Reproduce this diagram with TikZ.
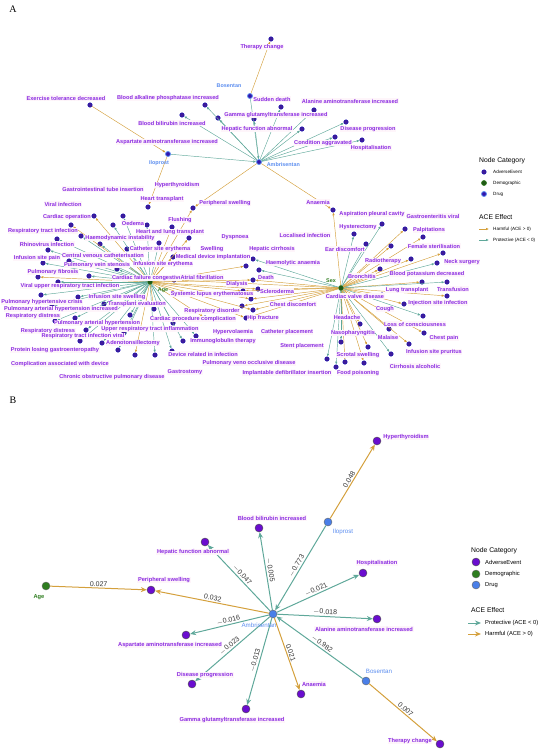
\documentclass[tikz,border=0pt]{standalone}
\usepackage{fontspec}
\setmainfont{Liberation Sans}
\newfontfamily\panelfont{Liberation Serif}
\usetikzlibrary{arrows.meta}

\definecolor{aedot}{HTML}{3F1C99}
\definecolor{aedotB}{HTML}{6A0DCF}
\definecolor{aetext}{HTML}{8A2BE2}
\definecolor{drugdot}{HTML}{4A7FE8}
\definecolor{drugtext}{HTML}{5B8DEF}
\definecolor{demodot}{HTML}{2E7D1F}
\definecolor{harmc}{HTML}{D4A03C}
\definecolor{protc}{HTML}{5FA89A}

\tikzset{
  aeA/.style={circle, fill=aedot, draw=blue!70!black, line width=0.3pt, inner sep=0pt, minimum size=4.6pt},
  drugA/.style={circle, fill=aedot!80!blue, draw=drugtext, line width=0.8pt, inner sep=0pt, minimum size=5pt},
  demoA/.style={circle, fill=demodot!70!black, draw=demodot, line width=0.6pt, inner sep=0pt, minimum size=5pt},
  aelab/.style={font=\fontsize{5.6}{6}\selectfont\bfseries, text=aetext, fill=magenta!4, inner sep=0.5pt},
  druglab/.style={font=\fontsize{5.4}{6}\selectfont\bfseries, text=drugtext, inner sep=0.6pt},
  demolab/.style={font=\fontsize{5.4}{6}\selectfont\bfseries, text=demodot, inner sep=0.6pt},
  harmA/.style={draw=harmc, line width=0.45pt, -{Latex[length=2.8pt,width=2.4pt]}},
  protA/.style={draw=protc, line width=0.45pt, -{Latex[length=2.8pt,width=2.4pt]}},
  aeB/.style={circle, fill=aedotB, draw=black!70, line width=0.4pt, inner sep=0pt, minimum size=8pt},
  drugB/.style={circle, fill=drugdot, draw=black!60, line width=0.4pt, inner sep=0pt, minimum size=8pt},
  demoB/.style={circle, fill=demodot, draw=black!60, line width=0.4pt, inner sep=0pt, minimum size=8pt},
  aelabB/.style={font=\fontsize{5.7}{6}\selectfont\bfseries, text=aetext, fill=magenta!4, inner sep=0.6pt},
  druglabB/.style={font=\fontsize{6.2}{7}\selectfont, text=drugtext, inner sep=0.6pt},
  harmB/.style={draw=harmc, line width=1pt, -{Stealth[length=6pt,width=5pt]}},
  protB/.style={draw=protc, line width=1pt, -{Stealth[length=6pt,width=5pt]}},
  wt/.style={font=\fontsize{7}{8}\selectfont, text=black!80, sloped, above, inner sep=1pt},
  legtitle/.style={font=\fontsize{6.8}{7}\selectfont, anchor=west, inner sep=0pt},
  legtext/.style={font=\fontsize{4.6}{5}\selectfont, anchor=west, inner sep=0pt},
  legtextB/.style={font=\fontsize{5.8}{6}\selectfont, anchor=west, inner sep=0pt}
}

\begin{document}
\begin{tikzpicture}[x=1pt,y=-1pt]
\useasboundingbox (0,0) rectangle (550,753);

% ---------------- panel A ----------------
\node[font=\panelfont\fontsize{10}{10}\selectfont] (pA) at (13,9) {A};

% hubs
\node[drugA] (amb) at (259,162) {};
\node[drugA] (ilo) at (168,154) {};
\node[drugA] (bos) at (250,96) {};
\node[demoA] (age) at (150,282) {};
\node[demoA] (sex) at (341,288) {};

% adverse events
\node[aeA] (ther) at (271,39) {};
\node[aeA] (exer) at (90,105) {};
\node[aeA] (balp) at (205,105) {};
\node[aeA] (bbil) at (182,115) {};
\node[aeA] (ggt) at (302,129) {};
\node[aeA] (ast) at (218,118) {};
\node[aeA] (sudd) at (281,107) {};
\node[aeA] (hepf) at (254,119) {};
\node[aeA] (alt) at (314,110) {};
\node[aeA] (disp) at (346,122) {};
\node[aeA] (cond) at (335,137) {};
\node[aeA] (hosp) at (362,140) {};
\node[aeA] (anae) at (333,210) {};
\node[aeA] (psw) at (193,208) {};
\node[aeA] (gtub) at (123,216) {};
\node[aeA] (hyth) at (148,207) {};
\node[aeA] (vinf) at (94,216) {};
\node[aeA] (htx) at (147,225) {};
\node[aeA] (cop) at (71,225) {};
\node[aeA] (oed) at (113,225) {};
\node[aeA] (rti) at (57,239) {};
\node[aeA] (flu) at (172,227) {};
\node[aeA] (hlt) at (159,243) {};
\node[aeA] (hdi) at (81,236) {};
\node[aeA] (rhi) at (48,250) {};
\node[aeA] (cse) at (127,249) {};
\node[aeA] (swe) at (189,238) {};
\node[aeA] (cvc) at (100,244) {};
\node[aeA] (isp) at (43,263) {};
\node[aeA] (pvs) at (69,261) {};
\node[aeA] (ise) at (117,269) {};
\node[aeA] (mdi) at (173,257) {};
\node[aeA] (pfi) at (38,277) {};
\node[aeA] (cfc) at (89,276) {};
\node[aeA] (afi) at (174,280) {};
\node[aeA] (vur) at (58,282) {};
\node[aeA] (iss) at (78,297) {};
\node[aeA] (phc) at (41,295) {};
\node[aeA] (tev) at (104,304) {};
\node[aeA] (pai) at (52,306) {};
\node[aeA] (rda) at (55,321) {};
\node[aeA] (pah) at (75,318) {};
\node[aeA] (rdb) at (86,330) {};
\node[aeA] (rtv) at (80,341) {};
\node[aeA] (uri) at (130,315) {};
\node[aeA] (ade) at (124,333) {};
\node[aeA] (plg) at (102,343) {};
\node[aeA] (cad) at (118,350) {};
\node[aeA] (copd) at (135,355) {};
\node[aeA] (gst) at (155,355) {};
\node[aeA] (dri) at (172,351) {};
\node[aeA] (igt) at (183,341) {};
\node[aeA] (cpc) at (173,323) {};
\node[aeA] (rdi) at (154,309) {};
\node[aeA] (hyv) at (205,318) {};
\node[aeA] (pvo) at (196,336) {};
\node[aeA] (dys) at (246,266) {};
\node[aeA] (hci) at (253,259) {};
\node[aeA] (han) at (259,270) {};
\node[aeA] (dea) at (253,280) {};
\node[aeA] (dia) at (243,291) {};
\node[aeA] (scl) at (258,289) {};
\node[aeA] (sle) at (251,299) {};
\node[aeA] (chd) at (253,310) {};
\node[aeA] (catp) at (242,306) {};
\node[aeA] (hip) at (246,318) {};
\node[aeA] (ste) at (327,359) {};
\node[aeA] (imp) at (336,367) {};
\node[aeA] (scr) at (345,362) {};
\node[aeA] (foo) at (364,363) {};
\node[aeA] (nas) at (341,342) {};
\node[aeA] (hys) at (354,234) {};
\node[aeA] (asp) at (382,224) {};
\node[aeA] (gev) at (405,229) {};
\node[aeA] (pal) at (423,237) {};
\node[aeA] (loc) at (366,244) {};
\node[aeA] (ear) at (391,246) {};
\node[aeA] (fst) at (443,253) {};
\node[aeA] (nec) at (437,263) {};
\node[aeA] (rad) at (411,259) {};
\node[aeA] (bro) at (380,269) {};
\node[aeA] (lun) at (422,282) {};
\node[aeA] (bpd) at (447,282) {};
\node[aeA] (cvd) at (382,295) {};
\node[aeA] (tra) at (447,296) {};
\node[aeA] (isi) at (404,304) {};
\node[aeA] (cou) at (423,316) {};
\node[aeA] (los) at (389,329) {};
\node[aeA] (hea) at (360,324) {};
\node[aeA] (che) at (424,333) {};
\node[aeA] (mal) at (368,347) {};
\node[aeA] (isr) at (409,344) {};
\node[aeA] (cir) at (391,354) {};

% drug edges
\draw[protA] (ilo) -- (amb);
\draw[protA] (bos) -- (amb);
\draw[protA] (amb) -- (balp);
\draw[protA] (amb) -- (bbil);
\draw[protA] (amb) -- (ast);
\draw[protA] (amb) -- (hepf);
\draw[protA] (amb) -- (sudd);
\draw[protA] (amb) -- (ggt);
\draw[protA] (amb) -- (alt);
\draw[protA] (amb) -- (disp);
\draw[protA] (amb) -- (cond);
\draw[protA] (amb) -- (hosp);
\draw[harmA] (bos) -- (ther);
\draw[harmA] (exer) -- (ilo);
\draw[harmA] (ilo) -- (hyth);
\draw[harmA] (amb) -- (psw);
\draw[harmA] (amb) -- (anae);
\draw[harmA] (age) -- (psw);
\draw[harmA] (sex) -- (anae);

% age edges
\draw[protA] (age) -- (gtub);
\draw[harmA] (age) -- (vinf);
\draw[protA] (age) -- (htx);
\draw[harmA] (age) -- (cop);
\draw[protA] (age) -- (oed);
\draw[protA] (age) -- (rti);
\draw[harmA] (age) -- (flu);
\draw[protA] (age) -- (hlt);
\draw[protA] (age) -- (hdi);
\draw[protA] (age) -- (rhi);
\draw[protA] (age) -- (cse);
\draw[harmA] (age) -- (swe);
\draw[protA] (age) -- (cvc);
\draw[protA] (age) -- (isp);
\draw[protA] (age) -- (pvs);
\draw[protA] (age) -- (ise);
\draw[harmA] (age) -- (mdi);
\draw[harmA] (age) -- (pfi);
\draw[protA] (age) -- (cfc);
\draw[harmA] (age) -- (afi);
\draw[protA] (age) -- (vur);
\draw[protA] (age) -- (iss);
\draw[protA] (age) -- (phc);
\draw[protA] (age) -- (tev);
\draw[protA] (age) -- (pai);
\draw[protA] (age) -- (rda);
\draw[protA] (age) -- (pah);
\draw[protA] (age) -- (rdb);
\draw[protA] (age) -- (rtv);
\draw[protA] (age) -- (uri);
\draw[protA] (age) -- (ade);
\draw[protA] (age) -- (plg);
\draw[protA] (age) -- (cad);
\draw[harmA] (age) -- (copd);
\draw[protA] (age) -- (gst);
\draw[protA] (age) -- (dri);
\draw[protA] (age) -- (igt);
\draw[protA] (age) -- (cpc);
\draw[harmA] (age) -- (rdi);
\draw[protA] (age) -- (pvo);
\draw[harmA] (age) -- (hyv);
\draw[harmA] (age) -- (dys);
\draw[harmA] (age) -- (dea);
\draw[harmA] (age) -- (dia);
\draw[harmA] (age) -- (scl);
\draw[harmA] (age) -- (sle);
\draw[harmA] (age) -- (chd);
\draw[harmA] (age) -- (hip);

% sex edges
\draw[protA] (sex) -- (hys);
\draw[protA] (sex) -- (asp);
\draw[harmA] (sex) -- (gev);
\draw[harmA] (sex) -- (pal);
\draw[protA] (sex) -- (loc);
\draw[harmA] (sex) -- (ear);
\draw[harmA] (sex) -- (fst);
\draw[protA] (sex) -- (nec);
\draw[harmA] (sex) -- (rad);
\draw[harmA] (sex) -- (bro);
\draw[harmA] (sex) -- (lun);
\draw[protA] (sex) -- (bpd);
\draw[harmA] (sex) -- (cvd);
\draw[harmA] (sex) -- (tra);
\draw[harmA] (sex) -- (isi);
\draw[protA] (sex) -- (cou);
\draw[harmA] (sex) -- (los);
\draw[harmA] (sex) -- (hea);
\draw[harmA] (sex) -- (che);
\draw[harmA] (sex) -- (mal);
\draw[harmA] (sex) -- (isr);
\draw[protA] (sex) -- (cir);
\draw[protA] (sex) -- (nas);
\draw[harmA] (sex) -- (scr);
\draw[harmA] (sex) -- (foo);
\draw[protA] (sex) -- (ste);
\draw[protA] (sex) -- (imp);
\draw[protA] (sex) -- (hci);
\draw[protA] (sex) -- (han);
\draw[harmA] (sex) -- (dea);
\draw[harmA] (sex) -- (dia);
\draw[harmA] (sex) -- (scl);
\draw[harmA] (sex) -- (sle);
\draw[harmA] (sex) -- (chd);
\draw[harmA] (sex) -- (catp);
\draw[harmA] (sex) -- (hip);
\draw[harmA] (sex) -- (afi);

% labels
\node[druglab, anchor=west] (ambl) at (266,165) {Ambrisentan};
\node[druglab] (ilol) at (159,163) {Iloprost};
\node[druglab] (bosl) at (229,86) {Bosentan};
\node[demolab] (agel) at (163,290) {Age};
\node[demolab] (sexl) at (331,281) {Sex};
\node[aelab] (therl) at (262,47) {Therapy change};
\node[aelab] (exerl) at (66,98) {Exercise tolerance decreased};
\node[aelab] (balpl) at (168,98) {Blood alkaline phosphatase increased};
\node[aelab] (bbill) at (172,123) {Blood bilirubin increased};
\node[aelab] (ggtl) at (276,115) {Gamma glutamyltransferase increased};
\node[aelab] (astl) at (167,142) {Aspartate aminotransferase increased};
\node[aelab] (suddl) at (272,99) {Sudden death};
\node[aelab] (hepfl) at (257,129) {Hepatic function abnormal};
\node[aelab] (altl) at (350,101) {Alanine aminotransferase increased};
\node[aelab] (displ) at (368,129) {Disease progression};
\node[aelab] (condl) at (323,143) {Condition aggravated};
\node[aelab] (hospl) at (371,148) {Hospitalisation};
\node[aelab] (anael) at (318,202) {Anaemia};
\node[aelab] (pswl) at (225,203) {Peripheral swelling};
\node[aelab] (gtubl) at (103,189) {Gastrointestinal tube insertion};
\node[aelab] (hythl) at (177,185) {Hyperthyroidism};
\node[aelab] (vinfl) at (63,204) {Viral infection};
\node[aelab] (htxl) at (162,199) {Heart transplant};
\node[aelab] (copl) at (67,217) {Cardiac operation};
\node[aelab] (oedl) at (133,223) {Oedema};
\node[aelab] (rtil) at (43,231) {Respiratory tract infection};
\node[aelab] (flul) at (180,220) {Flushing};
\node[aelab] (hltl) at (170,232) {Heart and lung transplant};
\node[aelab] (hdil) at (120,238) {Haemodynamic instability};
\node[aelab] (rhil) at (47,244) {Rhinovirus infection};
\node[aelab] (csel) at (160,249) {Catheter site erythema};
\node[aelab] (swel) at (212,249) {Swelling};
\node[aelab] (cvcl) at (103,255) {Central venous catheterisation};
\node[aelab] (ispl) at (37,258) {Infusion site pain};
\node[aelab] (pvsl) at (97,265) {Pulmonary vein stenosis};
\node[aelab] (isel) at (163,264) {Infusion site erythema};
\node[aelab] (mdil) at (213,257) {Medical device implantation};
\node[aelab] (pfil) at (53,272) {Pulmonary fibrosis};
\node[aelab] (cfcl) at (147,278) {Cardiac failure congestive};
\node[aelab] (afil) at (202,277) {Atrial fibrillation};
\node[aelab] (vurl) at (70,286) {Viral upper respiratory tract infection};
\node[aelab] (issl) at (117,297) {Infusion site swelling};
\node[aelab] (phcl) at (42,302) {Pulmonary hypertensive crisis};
\node[aelab] (tevl) at (137,304) {Transplant evaluation};
\node[aelab] (pail) at (61,309) {Pulmonary arterial hypertension increased};
\node[aelab] (rdal) at (33,316) {Respiratory distress};
\node[aelab] (pahl) at (97,323) {Pulmonary arterial hypertension};
\node[aelab] (rdbl) at (48,331) {Respiratory distress};
\node[aelab] (rtvl) at (83,336) {Respiratory tract infection viral};
\node[aelab] (uril) at (150,329) {Upper respiratory tract inflammation};
\node[aelab] (adel) at (133,343) {Adenotonsillectomy};
\node[aelab] (plgl) at (55,350) {Protein losing gastroenteropathy};
\node[aelab] (cadl) at (60,364) {Complication associated with device};
\node[aelab] (copdl) at (112,377) {Chronic obstructive pulmonary disease};
\node[aelab] (gstl) at (185,372) {Gastrostomy};
\node[aelab] (dril) at (203,354) {Device related in infection};
\node[aelab] (igtl) at (223,341) {Immunoglobulin therapy};
\node[aelab] (cpcl) at (193,319) {Cardiac procedure complication};
\node[aelab] (rdil) at (212,311) {Respiratory disorder};
\node[aelab] (hyvl) at (233,332) {Hypervolaemia};
\node[aelab] (pvol) at (249,363) {Pulmonary veno occlusive disease};
\node[aelab] (dysl) at (235,237) {Dyspnoea};
\node[aelab] (hcil) at (272,249) {Hepatic cirrhosis};
\node[aelab] (hanl) at (293,263) {Haemolytic anaemia};
\node[aelab] (deal) at (266,277) {Death};
\node[aelab] (dial) at (237,284) {Dialysis};
\node[aelab] (scll) at (277,291) {Scleroderma};
\node[aelab] (slel) at (212,294) {Systemic lupus erythematosus};
\node[aelab] (chdl) at (293,304) {Chest discomfort};
\node[aelab] (catpl) at (287,332) {Catheter placement};
\node[aelab] (hipl) at (263,318) {Hip fracture};
\node[aelab] (stel) at (302,346) {Stent placement};
\node[aelab] (impl) at (287,373) {Implantable defibrillator insertion};
\node[aelab] (scrl) at (358,355) {Scrotal swelling};
\node[aelab] (fool) at (358,373) {Food poisoning};
\node[aelab] (nasl) at (353,333) {Nasopharyngitis};
\node[aelab] (hysl) at (358,227) {Hysterectomy};
\node[aelab] (aspl) at (372,214) {Aspiration pleural cavity};
\node[aelab] (gevl) at (433,216) {Gastroenteritis viral};
\node[aelab] (pall) at (429,230) {Palpitations};
\node[aelab] (locl) at (305,235) {Localised infection};
\node[aelab] (earl) at (345,249) {Ear discomfort};
\node[aelab] (fstl) at (434,246) {Female sterilisation};
\node[aelab] (necl) at (462,262) {Neck surgery};
\node[aelab] (radl) at (383,261) {Radiotherapy};
\node[aelab] (brol) at (362,276) {Bronchitis};
\node[aelab] (lunl) at (407,290) {Lung transplant};
\node[aelab] (bpdl) at (427,274) {Blood potassium decreased};
\node[aelab] (cvdl) at (355,296) {Cardiac valve disease};
\node[aelab] (tral) at (453,289) {Transfusion};
\node[aelab] (isil) at (438,303) {Injection site infection};
\node[aelab] (coul) at (385,309) {Cough};
\node[aelab] (losl) at (415,324) {Loss of consciousness};
\node[aelab] (heal) at (347,317) {Headache};
\node[aelab] (chel) at (444,338) {Chest pain};
\node[aelab] (mall) at (388,337) {Malaise};
\node[aelab] (isrl) at (434,352) {Infusion site pruritus};
\node[aelab] (cirl) at (415,366) {Cirrhosis alcoholic};

% legend A
\node[legtitle] (catA) at (479,161) {Node Category};
\node[aeA] (kaeA) at (484,172) {};
\node[legtext] at (493,172) {AdverseEvent};
\node[demoA] (kdemoA) at (484,183) {};
\node[legtext] at (493,183) {Demographic};
\node[drugA] (kdrugA) at (484,194) {};
\node[legtext] at (493,194) {Drug};
\node[legtitle] (aceA) at (479,217) {ACE Effect};
\coordinate (hA1) at (479,229);
\coordinate (hA2) at (489,229);
\coordinate (pA1) at (479,240);
\coordinate (pA2) at (489,240);
\draw[harmA, line width=0.8pt] (hA1) -- (hA2);
\draw[protA, line width=0.8pt] (pA1) -- (pA2);
\node[legtext] at (493,229) {Harmful (ACE > 0)};
\node[legtext] at (493,240) {Protective (ACE < 0)};

% ---------------- panel B ----------------
\node[font=\panelfont\fontsize{10}{10}\selectfont] (pB) at (13,400) {B};

\node[drugB] (bAmb) at (273,614) {};
\node[drugB] (bIlo) at (328,522) {};
\node[drugB] (bBos) at (366,681) {};
\node[demoB] (bAge) at (46,586) {};
\node[aeB] (bHyp) at (377,441) {};
\node[aeB] (bHfa) at (205,542) {};
\node[aeB] (bBbi) at (259,528) {};
\node[aeB] (bHos) at (363,573) {};
\node[aeB] (bAlt) at (377,619) {};
\node[aeB] (bAna) at (301,694) {};
\node[aeB] (bGgt) at (246,709) {};
\node[aeB] (bDis) at (192,684) {};
\node[aeB] (bAst) at (186,635) {};
\node[aeB] (bPsw) at (151,590) {};
\node[aeB] (bThe) at (440,744) {};

\draw[harmB] (bIlo) -- node[wt] {0.048} (bHyp);
\draw[protB] (bIlo) -- node[wt] {$-$0.773} (bAmb);
\draw[protB] (bAmb) -- node[wt] {$-$0.047} (bHfa);
\draw[protB] (bAmb) -- node[wt] {$-$0.005} (bBbi);
\draw[protB] (bAmb) -- node[wt] {$-$0.021} (bHos);
\draw[protB] (bAmb) -- node[wt] {$-$0.018} (bAlt);
\draw[protB] (bBos) -- node[wt] {$-$0.982} (bAmb);
\draw[harmB] (bAmb) -- node[wt] {0.021} (bAna);
\draw[protB] (bAmb) -- node[wt] {$-$0.013} (bGgt);
\draw[protB] (bAmb) -- node[wt] {$-$0.023} (bDis);
\draw[protB] (bAmb) -- node[wt] {$-$0.016} (bAst);
\draw[harmB] (bAmb) -- node[wt] {0.032} (bPsw);
\draw[harmB] (bAge) -- node[wt] {0.027} (bPsw);
\draw[harmB] (bBos) -- node[wt] {0.007} (bThe);

\node[druglabB] (bAmbl) at (259,625) {Ambrisentan};
\node[druglabB] (bIlol) at (343,532) {Iloprost};
\node[druglabB] (bBosl) at (379,671) {Bosentan};
\node[demolab, font=\fontsize{5.7}{6}\selectfont\bfseries] (bAgel) at (39,597) {Age};
\node[aelabB] (bHypl) at (406,437) {Hyperthyroidism};
\node[aelabB] (bHfal) at (193,552) {Hepatic function abnormal};
\node[aelabB] (bBbil) at (272,518) {Blood bilirubin increased};
\node[aelabB] (bHosl) at (377,563) {Hospitalisation};
\node[aelabB] (bAltl) at (364,629) {Alanine aminotransferase increased};
\node[aelabB] (bAnal) at (314,684) {Anaemia};
\node[aelabB] (bGgtl) at (232,720) {Gamma glutamyltransferase increased};
\node[aelabB] (bDisl) at (205,675) {Disease progression};
\node[aelabB] (bAstl) at (170,645) {Aspartate aminotransferase increased};
\node[aelabB] (bPswl) at (164,580) {Peripheral swelling};
\node[aelabB] (bThel) at (410,741) {Therapy change};

% legend B
\node[legtitle] (catB) at (471,551) {Node Category};
\node[aeB] (kaeB) at (476,562) {};
\node[legtextB] at (485,562) {AdverseEvent};
\node[demoB] (kdemoB) at (476,574) {};
\node[legtextB] at (485,574) {Demographic};
\node[drugB] (kdrugB) at (476,585) {};
\node[legtextB] at (485,585) {Drug};
\node[legtitle] (aceB) at (471,610) {ACE Effect};
\coordinate (pB1) at (468,623);
\coordinate (pB2) at (481,623);
\coordinate (hB1) at (468,634);
\coordinate (hB2) at (481,634);
\draw[protB] (pB1) -- (pB2);
\draw[harmB] (hB1) -- (hB2);
\node[legtextB] at (485,623) {Protective (ACE < 0)};
\node[legtextB] at (485,634) {Harmful (ACE > 0)};
\end{tikzpicture}
\end{document}
